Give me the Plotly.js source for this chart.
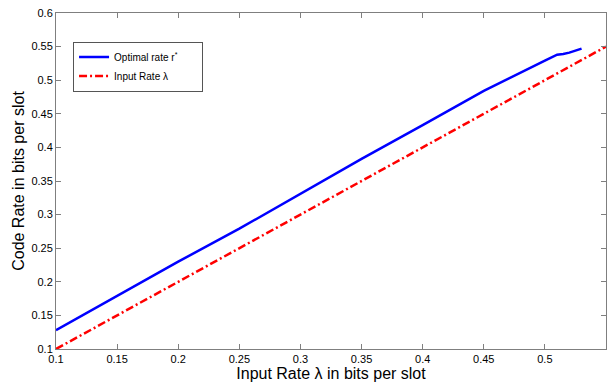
<!DOCTYPE html>
<html>
<head>
<meta charset="utf-8">
<script src="https://cdn.plot.ly/plotly-3.0.1.min.js"></script>
<style>html,body{margin:0;padding:0;background:#fff;}#chart{width:616px;height:384px;}</style>
</head>
<body>
<div id="chart"></div>
<script>
const optX = [0.1, 0.15, 0.2, 0.25, 0.3, 0.35, 0.4, 0.45, 0.5, 0.51, 0.515, 0.52, 0.53];
const optY = [0.128, 0.179, 0.230, 0.279, 0.331, 0.383, 0.433, 0.484, 0.529, 0.538, 0.539, 0.541, 0.547];
const inX = [0.1, 0.55];
const inY = [0.1, 0.55];
const xTicks = [0.1, 0.15, 0.2, 0.25, 0.3, 0.35, 0.4, 0.45, 0.5, 0.55];
const yTicks = [0.1, 0.15, 0.2, 0.25, 0.3, 0.35, 0.4, 0.45, 0.5, 0.55, 0.6];

const pad = '\u00a0'.repeat(7);
const traces = [
  {x: optX, y: optY, mode: 'lines', name: 'Optimal rate r<sup>*</sup>' + pad,
   line: {color: '#0000ff', width: 2.5}},
  {x: inX, y: inY, mode: 'lines', name: 'Input Rate λ',
   line: {color: '#ff0000', width: 2.5, dash: '8px,3px,2px,3px'}}
];
const axisCommon = {
  showgrid: false, zeroline: false, showline: true, mirror: 'ticks',
  linecolor: '#7f7f7f', linewidth: 1, ticks: 'inside', ticklen: 5, tickcolor: '#7f7f7f',
  tickfont: {family: 'Liberation Sans, Arial', size: 11, color: '#000'}
};
const layout = {
  width: 616, height: 384,
  margin: {l: 56, r: 10, t: 13, b: 35},
  paper_bgcolor: '#fff', plot_bgcolor: '#fff',
  showlegend: true,
  legend: {x: 0.031, y: 0.915, xanchor: 'left', yanchor: 'top',
    bordercolor: '#555', borderwidth: 1, bgcolor: '#fff',
    font: {family: 'Liberation Sans, Arial', size: 10, color: '#000'}},
  xaxis: Object.assign({}, axisCommon, {
    range: [0.1, 0.55], tickvals: xTicks, ticktext: xTicks.map(String),
    title: {text: 'Input Rate λ in bits per slot', standoff: 3,
      font: {family: 'Liberation Sans, Arial', size: 16, color: '#000'}}
  }),
  yaxis: Object.assign({}, axisCommon, {
    range: [0.1, 0.6], tickvals: yTicks, ticktext: yTicks.map(String),
    title: {text: 'Code Rate in bits per slot', standoff: 2,
      font: {family: 'Liberation Sans, Arial', size: 16, color: '#000'}}
  })
};
Plotly.newPlot('chart', traces, layout, {displayModeBar: false, staticPlot: true});
</script>
</body>
</html>
